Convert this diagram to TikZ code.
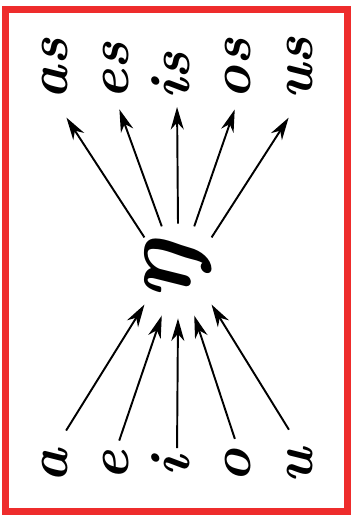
\documentclass[tikz,border=0pt]{standalone}
\usepackage{fontspec}
\usepackage{graphicx}
\usetikzlibrary{arrows.meta}
\definecolor{framered}{RGB}{238,44,44}

\begin{document}
\begin{tikzpicture}[>={Stealth[length=4.5mm,width=2.6mm,inset=1.4mm]}, line width=1.1pt,
    letter/.style={inner sep=0pt, font=\fontsize{32}{36}\selectfont\bfseries\itshape},
    hub/.style={circle, inner sep=0pt, minimum size=1.86cm, font=\fontsize{58}{60}\selectfont\bfseries\itshape},
    line/.style={draw, ->}]

    \useasboundingbox (0,0) rectangle (7.02,10.32);
    \draw [framered, line width=0.14cm] (0.10,0.09) rectangle (6.95,10.13);

    % vowels
    \node [letter] (a) at (1.10,1.00) {\rotatebox{90}{\strut a}};
    \node [letter] (e) at (2.32,1.00) {\rotatebox{90}{\strut e}};
    \node [letter] (i) at (3.54,1.00) {\rotatebox{90}{\strut i}};
    \node [letter] (o) at (4.76,1.00) {\rotatebox{90}{\strut o}};
    \node [letter] (u) at (6.00,1.00) {\rotatebox{90}{\strut u}};

    \node [hub] (ng) at (3.56,4.90) {\rotatebox{90}{ŋ}};

    % with s
    \node [letter, anchor=south] (as) at (1.10,8.32) {\rotatebox{90}{\strut as}};
    \node [letter, anchor=south] (es) at (2.32,8.32) {\rotatebox{90}{\strut es}};
    \node [letter, anchor=south] (is) at (3.54,8.32) {\rotatebox{90}{\strut is}};
    \node [letter, anchor=south] (os) at (4.76,8.32) {\rotatebox{90}{\strut os}};
    \node [letter, anchor=south] (us) at (6.00,8.32) {\rotatebox{90}{\strut us}};

    \path [line, shorten <=.42cm] (a.north) -- (ng.225);
    \path [line, shorten <=.20cm] (e.north) -- (ng.250);
    \path [line, shorten <=.14cm] (i.north) -- (ng.270);
    \path [line, shorten <=.20cm] (o.north) -- (ng.290);
    \path [line, shorten <=.42cm] (u.north) -- (ng.315);

    \path [line, shorten >=.42cm] (ng.135) -- (as.south);
    \path [line, shorten >=.20cm] (ng.110) -- (es.south);
    \path [line, shorten >=.14cm] (ng.90) -- (is.south);
    \path [line, shorten >=.20cm] (ng.70) -- (os.south);
    \path [line, shorten >=.42cm] (ng.45) -- (us.south);

\end{tikzpicture}
\end{document}
